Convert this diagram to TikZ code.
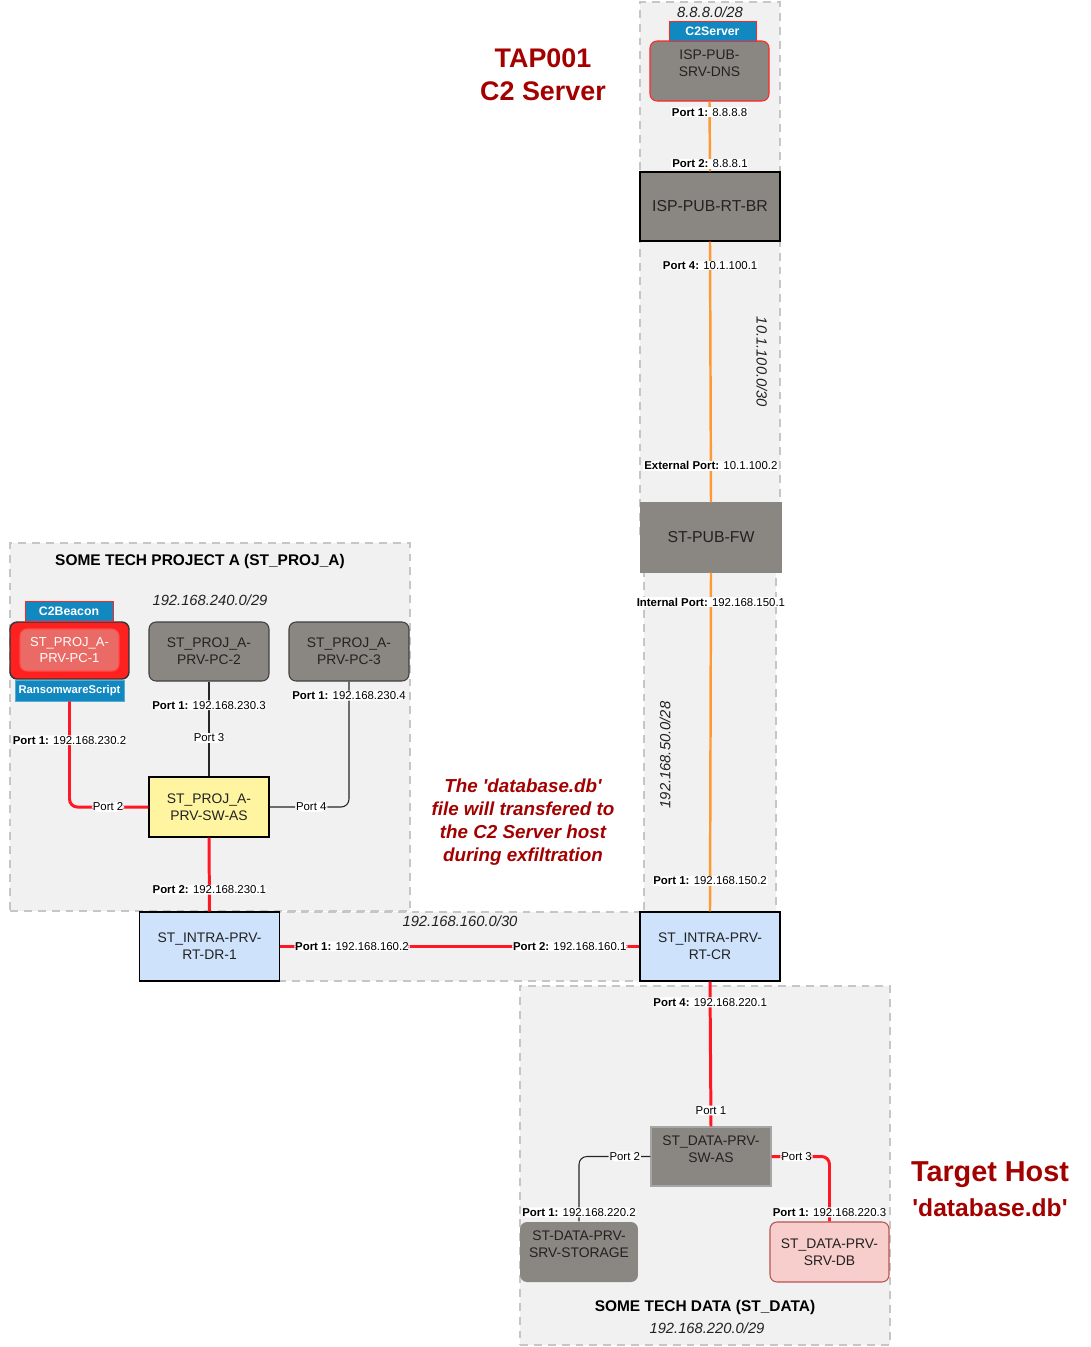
\documentclass[tikz,border=0pt]{standalone}
\usepackage{fontspec}
\setmainfont{Liberation Sans}
\usetikzlibrary{positioning, fit, backgrounds, calc}
\definecolor{devgrey}{RGB}{138, 135, 130}
\definecolor{grpfill}{RGB}{241, 241, 241}
\definecolor{grpline}{RGB}{198, 198, 198}
\definecolor{wirered}{RGB}{255, 24, 36}
\definecolor{wireorange}{RGB}{255, 153, 51}
\definecolor{tagblue}{RGB}{17, 136, 192}
\definecolor{notered}{RGB}{163, 0, 0}
\definecolor{rtblue}{RGB}{207, 226, 252}
\definecolor{swyellow}{RGB}{255, 245, 160}
\definecolor{dbpink}{RGB}{248, 206, 204}
\definecolor{dbline}{RGB}{184, 84, 80}
\definecolor{pcred}{RGB}{255, 32, 32}
\definecolor{pcinner}{RGB}{234, 107, 102}
\definecolor{textdark}{RGB}{34, 34, 34}
\tikzset{
  dev/.style       = {rectangle, draw=black, fill=devgrey, text=textdark, align=center, inner sep=0pt, line width=0.6pt, font=\fontsize{7.9}{9.6}\selectfont},
  devround/.style  = {dev, rounded corners=4pt, draw=black!75},
  textup/.style    = {text depth=0.3cm},
  router/.style    = {dev, fill=rtblue, minimum width=2.8cm, minimum height=1.38cm},
  tag/.style       = {rectangle, fill=tagblue, draw=red!85, line width=0.5pt, text=white, inner sep=0pt, font=\fontsize{7}{8}\selectfont\bfseries},
  plabel/.style    = {fill=white, inner sep=0.5pt, text=black, font=\fontsize{6.5}{7}\selectfont},
  wirer/.style     = {wirered, line width=1.7pt, rounded corners=4.5pt},
  wireo/.style     = {wireorange, line width=1.4pt},
  wirek/.style     = {black!85, line width=0.6pt, rounded corners=4.5pt},
  grp/.style       = {rectangle, fill=grpfill, draw=grpline, line width=1.1pt, dash pattern=on 4.5pt off 3.4pt, inner sep=0pt},
  subnet/.style    = {text=textdark, font=\fontsize{8.4}{10}\selectfont\itshape},
  grptitle/.style  = {text=black, font=\fontsize{8.8}{10}\selectfont\bfseries},
  bigred/.style    = {text=notered, align=center, font=\fontsize{15.3}{18.7}\selectfont\bfseries},
}

\begin{document}
\begin{tikzpicture}[x=0.02cm, y=-0.02cm]

\useasboundingbox (0,0) rectangle (1091,1347);

% ==================== groups ====================
\coordinate (g1-tl) at (640,2);    \coordinate (g1-br) at (780,200);
\coordinate (g2-tl) at (640,200);  \coordinate (g2-br) at (780,537);
\coordinate (g3-tl) at (644,560);  \coordinate (g3-br) at (776,912);
\coordinate (g4-tl) at (10,543);   \coordinate (g4-br) at (410,911);
\coordinate (g5-tl) at (209,912);  \coordinate (g5-br) at (710,981);
\coordinate (g6-tl) at (520,986);  \coordinate (g6-br) at (890,1345);

\begin{scope}[on background layer]
    \node[grp, fit=(g1-tl)(g1-br)] (G1) {};
    \node[grp, fit=(g2-tl)(g2-br)] (G2) {};
    \node[grp, fit=(g3-tl)(g3-br)] (G3) {};
    \node[grp, fit=(g4-tl)(g4-br)] (G4) {};
    \node[grp, fit=(g5-tl)(g5-br)] (G5) {};
    \node[grp, fit=(g6-tl)(g6-br)] (G6) {};
\end{scope}

\node[subnet] (n-888) at (710,12) {8.8.8.0/28};
\node[subnet, rotate=-90] (n-101) at (762,362) {10.1.100.0/30};
\node[subnet, rotate=90] (n-50) at (665,755) {192.168.50.0/28};
\node[grptitle] (t-proj) at (200,561) {SOME TECH PROJECT A (ST\_PROJ\_A)};
\node[subnet] (n-240) at (210,600) {192.168.240.0/29};
\node[subnet] (n-160) at (460,921) {192.168.160.0/30};
\node[grptitle] (t-data) at (705,1307) {SOME TECH DATA (ST\_DATA)};
\node[subnet] (n-220) at (707,1328) {192.168.220.0/29};

% ==================== ISP / public ====================
\node[devround, textup, draw=red!85, minimum width=2.38cm, minimum height=1.2cm] (dns) at (709.5,71) {ISP-PUB-\\SRV-DNS};
\node[tag, minimum width=1.74cm, minimum height=0.4cm] (c2srv) at (712.5,31) {C2Server};
\node[dev, minimum width=2.8cm, minimum height=1.38cm, font=\fontsize{9}{11}\selectfont] (rtbr) at (710,206.5) {ISP-PUB-RT-BR};
\node[dev, draw=devgrey, minimum width=2.8cm, minimum height=1.38cm, font=\fontsize{9}{11}\selectfont] (fw) at (711,537.5) {ST-PUB-FW};

% ==================== routers ====================
\node[router] (rtcr) at (710,946.5) {ST\_INTRA-PRV-\\RT-CR};
\node[router] (rtdr) at (209.5,946.5) {ST\_INTRA-PRV-\\RT-DR-1};

% ==================== ST_PROJ_A ====================
\node[dev, fill=swyellow, minimum width=2.4cm, minimum height=1.2cm] (psw) at (209,807) {ST\_PROJ\_A-\\PRV-SW-AS};
\node[devround, fill=pcred, draw=black!80, line width=0.8pt, minimum width=2.38cm, minimum height=1.14cm] (pc1) at (69.5,650.5) {};
\node[devround, fill=pcinner, draw=red!70, text=white, minimum width=1.98cm, minimum height=0.84cm, font=\fontsize{7.4}{8.6}\selectfont] (pc1in) at (69.5,650) {ST\_PROJ\_A-\\PRV-PC-1};
\node[tag, minimum width=1.76cm, minimum height=0.4cm] (c2b) at (69,611) {C2Beacon};
\node[tag, draw=tagblue!70, minimum width=2.18cm, minimum height=0.42cm, font=\fontsize{6.4}{7.5}\selectfont\bfseries] (rs) at (69.5,690.5) {RansomwareScript};
\node[devround, minimum width=2.4cm, minimum height=1.18cm] (pc2) at (209,651.5) {ST\_PROJ\_A-\\PRV-PC-2};
\node[devround, minimum width=2.4cm, minimum height=1.18cm] (pc3) at (349,651.5) {ST\_PROJ\_A-\\PRV-PC-3};

% ==================== ST_DATA ====================
\node[dev, textup, draw=black!35, minimum width=2.4cm, minimum height=1.18cm] (dsw) at (711,1156.5) {ST\_DATA-PRV-\\SW-AS};
\node[devround, textup, draw=none, minimum width=2.36cm, minimum height=1.2cm] (stor) at (579,1252) {ST-DATA-PRV-\\SRV-STORAGE};
\node[devround, fill=dbpink, draw=dbline, minimum width=2.38cm, minimum height=1.2cm] (db) at (829.5,1252) {ST\_DATA-PRV-\\SRV-DB};

% ==================== notes ====================
\node[bigred] (tap) at (543,75) {TAP001\\C2 Server};
\node[bigred, font=\fontsize{10.7}{13}\selectfont\bfseries\itshape] (note) at (523,822)
    {The \textquotesingle database.db\textquotesingle\\file will transfered to\\the C2 Server host\\during exfiltration};
\node[bigred, font=\fontsize{16.4}{19}\selectfont\bfseries] (tgt) at (990,1175) {Target Host};
\node[bigred, font=\fontsize{14}{17}\selectfont\bfseries] (tgtdb) at (990,1208) {\textquotesingle database.db\textquotesingle};

% ==================== links ====================
\draw[wireo] (dns.south) -- node[plabel, pos=0.155] {\textbf{Port 1:} 8.8.8.8}
                            node[plabel, pos=0.887] {\textbf{Port 2:} 8.8.8.1} (rtbr.north);
\draw[wireo] (rtbr.south) -- node[plabel, pos=0.092] {\textbf{Port 4:} 10.1.100.1}
                             node[plabel, pos=0.859] {\textbf{External Port:} 10.1.100.2} (fw.north);
\draw[wireo] (fw.south) -- node[plabel, pos=0.088] {\textbf{Internal Port:} 192.168.150.1}
                           node[plabel, pos=0.909] {\textbf{Port 1:} 192.168.150.2} (rtcr.north);

\draw[wirer] (rtcr.south) -- node[plabel, pos=0.144] {\textbf{Port 4:} 192.168.220.1}
                             node[plabel, pos=0.89] {Port 1} (dsw.north);
\draw[wirek] (dsw.west) -| node[plabel, pos=0.18] {Port 2}
                           node[plabel, pos=0.93] {\textbf{Port 1:} 192.168.220.2} (stor.north);
\draw[wirer] (dsw.east) -| node[plabel, pos=0.216] {Port 3}
                           node[plabel, pos=0.93] {\textbf{Port 1:} 192.168.220.3} (db.north);

\draw[wirer] (rtdr.east) -- node[plabel, pos=0.2] {\textbf{Port 1:} 192.168.160.2}
                            node[plabel, pos=0.806] {\textbf{Port 2:} 192.168.160.1} (rtcr.west);
\draw[wirer] (psw.south) -- node[plabel, pos=0.707] {\textbf{Port 2:} 192.168.230.1} (rtdr.north);

\draw[wirer] (psw.west) -| node[plabel, pos=0.256] {Port 2}
                           node[plabel, pos=0.816] {\textbf{Port 1:} 192.168.230.2} (rs.south);
\draw[wirek] (pc2.south) -- node[plabel, pos=0.25] {\textbf{Port 1:} 192.168.230.3}
                            node[plabel, pos=0.594] {Port 3} (psw.north);
\draw[wirek] (psw.east) -| node[plabel, pos=0.2625] {Port 4}
                           node[plabel, pos=0.944] {\textbf{Port 1:} 192.168.230.4} (pc3.south);

\end{tikzpicture}
\end{document}
